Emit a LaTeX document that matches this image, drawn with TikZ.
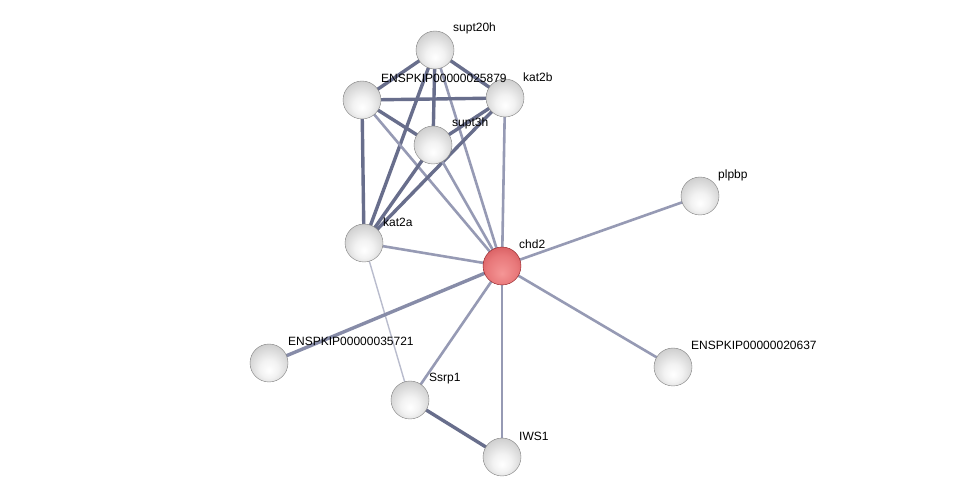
\documentclass[tikz,border=0pt]{standalone}
\usepackage{fontspec}
\setmainfont{Liberation Sans}
\pgfdeclareradialshading{graysphere}{\pgfpoint{0bp}{-10bp}}{color(0bp)=(white); color(12bp)=(white!95!black); color(28bp)=(white!82!black); color(40bp)=(white!70!black); color(50bp)=(white!55!black)}
\pgfdeclareradialshading{redsphere}{\pgfpoint{0bp}{-10bp}}{color(0bp)=(rgb,255:red,245;green,150;blue,150); color(20bp)=(rgb,255:red,232;green,120;blue,122); color(38bp)=(rgb,255:red,205;green,78;blue,82); color(50bp)=(rgb,255:red,150;green,35;blue,40)}
\begin{document}
\begin{tikzpicture}[x=1pt,y=-1pt,
  ballnode/.style={circle,minimum size=38pt,inner sep=0pt,shading=graysphere,draw=white!50!black,line width=0.4pt},
  rednode/.style={circle,minimum size=38pt,inner sep=0pt,shading=redsphere,draw={rgb,255:red,140;green,30;blue,35},line width=0.4pt},
  strong/.style={line width=3.4pt,draw={rgb,255:red,104;green,110;blue,140}},
  medium/.style={line width=2.6pt,draw={rgb,255:red,150;green,154;blue,180}},
  weak/.style={line width=1.4pt,draw={rgb,255:red,185;green,188;blue,205}},
  lbl/.style={anchor=west,inner sep=0pt,font=\fontsize{12}{14}\selectfont}]
\useasboundingbox (0,0) rectangle (975,502);
\fill[white] (0,0) rectangle (975,502);
% coordinates of nodes
\coordinate (csupt20h) at (435,50);
\coordinate (cE25879) at (362,100);
\coordinate (ckat2b) at (505,98);
\coordinate (csupt3h) at (433,145);
\coordinate (cplpbp) at (700,196);
\coordinate (ckat2a) at (364,243);
\coordinate (cchd2) at (502,266);
\coordinate (cE35721) at (269,363);
\coordinate (cE20637) at (673,367);
\coordinate (cSsrp1) at (410,400);
\coordinate (cIWS1) at (502,457);
% edges
\draw[strong] (csupt20h) -- (cE25879);
\draw[strong] (csupt20h) -- (ckat2b);
\draw[strong] (csupt20h) -- (csupt3h);
\draw[strong] (csupt20h) -- (ckat2a);
\draw[medium] (csupt20h) -- (cchd2);
\draw[strong] (cE25879) -- (ckat2b);
\draw[strong] (cE25879) -- (csupt3h);
\draw[strong] (cE25879) -- (ckat2a);
\draw[medium] (cE25879) -- (cchd2);
\draw[strong] (ckat2b) -- (csupt3h);
\draw[strong] (ckat2b) -- (ckat2a);
\draw[medium] (ckat2b) -- (cchd2);
\draw[strong] (csupt3h) -- (ckat2a);
\draw[medium] (csupt3h) -- (cchd2);
\draw[medium] (ckat2a) -- (cchd2);
\draw[weak] (ckat2a) -- (cSsrp1);
\draw[medium] (cchd2) -- (cplpbp);
\draw[medium] (cchd2) -- (cE20637);
\draw[strong,draw={rgb,255:red,135;green,140;blue,168}] (cchd2) -- (cE35721);
\draw[medium] (cchd2) -- (cSsrp1);
\draw[medium] (cchd2) -- (cIWS1);
\draw[strong] (cSsrp1) -- (cIWS1);
% nodes
\node[ballnode] (supt20h) at (csupt20h) {};
\node[ballnode] (E25879) at (cE25879) {};
\node[ballnode] (kat2b) at (ckat2b) {};
\node[ballnode] (supt3h) at (csupt3h) {};
\node[ballnode] (plpbp) at (cplpbp) {};
\node[ballnode] (kat2a) at (ckat2a) {};
\node[rednode] (chd2) at (cchd2) {};
\node[ballnode] (E35721) at (cE35721) {};
\node[ballnode] (E20637) at (cE20637) {};
\node[ballnode] (Ssrp1) at (cSsrp1) {};
\node[ballnode] (IWS1) at (cIWS1) {};
% labels
\node[lbl] (lsupt20h) at ([shift={(18,-22)}]csupt20h) {supt20h};
\node[lbl] (lE25879) at ([shift={(19,-22)}]cE25879) {ENSPKIP00000025879};
\node[lbl] (lkat2b) at ([shift={(18,-21)}]ckat2b) {kat2b};
\node[lbl] (lsupt3h) at ([shift={(19,-22)}]csupt3h) {supt3h};
\node[lbl] (lplpbp) at ([shift={(18,-21)}]cplpbp) {plpbp};
\node[lbl] (lkat2a) at ([shift={(19,-21)}]ckat2a) {kat2a};
\node[lbl] (lchd2) at ([shift={(17,-22)}]cchd2) {chd2};
\node[lbl] (lE35721) at ([shift={(19,-22)}]cE35721) {ENSPKIP00000035721};
\node[lbl] (lE20637) at ([shift={(18,-22)}]cE20637) {ENSPKIP00000020637};
\node[lbl] (lSsrp1) at ([shift={(19,-21)}]cSsrp1) {Ssrp1};
\node[lbl] (lIWS1) at ([shift={(17,-21)}]cIWS1) {IWS1};
\end{tikzpicture}
\end{document}
